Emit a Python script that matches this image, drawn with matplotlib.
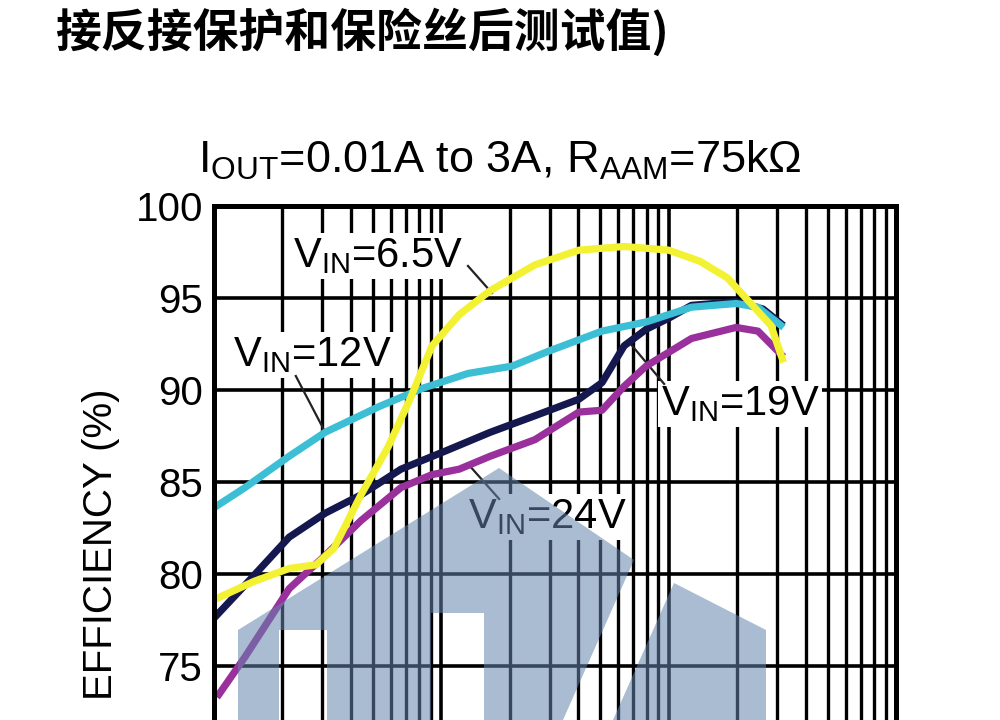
import matplotlib
matplotlib.use("Agg")
import matplotlib.pyplot as plt
from matplotlib.patches import Polygon

plt.rcParams['font.family'] = ['Liberation Sans', 'Noto Sans CJK SC', 'DejaVu Sans']
plt.rcParams['mathtext.fontset'] = 'custom'
plt.rcParams['mathtext.rm'] = 'Liberation Sans'

# efficiency curves (output current in A, efficiency in %)
i_65v = [0.01, 0.015, 0.0214, 0.0281, 0.0337, 0.0443, 0.0583, 0.0728, 0.091, 0.12,
         0.164, 0.258, 0.403, 0.637, 1.0, 1.37, 1.81, 2.26, 2.82, 3.2]
eff_65v = [78.6, 79.6, 80.3, 80.5, 81.4, 84.3, 86.9, 89.5, 92.4, 94.1,
           95.4, 96.8, 97.6, 97.8, 97.6, 97.0, 96.1, 94.8, 93.5, 91.5]

i_12v = [0.01, 0.0137, 0.0214, 0.0308, 0.0532, 0.083, 0.131, 0.205, 0.295, 0.509,
         0.796, 1.26, 1.98, 2.47, 3.2]
eff_12v = [83.6, 84.7, 86.4, 87.7, 89.1, 90.1, 90.9, 91.3, 92.1, 93.2,
           93.7, 94.5, 94.7, 94.5, 93.4]

i_19v = [0.01, 0.0137, 0.0214, 0.0308, 0.0443, 0.0665, 0.105, 0.164, 0.258, 0.403,
         0.509, 0.637, 0.796, 1.0, 1.26, 1.98, 2.6, 3.2]
eff_19v = [77.6, 79.4, 82.0, 83.3, 84.3, 85.7, 86.7, 87.7, 88.6, 89.5,
           90.4, 92.4, 93.3, 93.9, 94.6, 94.8, 94.4, 93.5]

i_24v = [0.0103, 0.0137, 0.0214, 0.0308, 0.0443, 0.0665, 0.091, 0.12, 0.164, 0.258,
         0.403, 0.509, 0.637, 0.796, 1.26, 1.98, 2.47, 3.2]
eff_24v = [73.3, 75.5, 79.2, 81.0, 82.9, 84.7, 85.4, 85.7, 86.4, 87.3,
           88.8, 88.9, 90.2, 91.3, 92.8, 93.4, 93.2, 91.8]

y_ticks = [75, 80, 85, 90, 95, 100]

title_text = '接反接保护和保险丝后测试值)'
cond_text = r'I$_{\mathregular{OUT}}$=0.01A to 3A, R$_{\mathregular{AAM}}$=75kΩ'

fig = plt.figure(figsize=(10, 7.2), dpi=100)
fig.patch.set_facecolor('white')

# axes run past the bottom edge: the picture is cropped
ax = fig.add_axes([0.214, -0.5639, 0.682, 1.2778])
ax.set_xscale('log')
ax.set_xlim(0.01, 10)
ax.set_ylim(50, 100)

ax.plot(i_24v, eff_24v, color='#9a309c', lw=5.2, zorder=4, solid_capstyle='butt')
ax.plot(i_19v, eff_19v, color='#15184f', lw=5.2, zorder=4, solid_capstyle='butt')
ax.plot(i_12v, eff_12v, color='#3cbfd5', lw=5.2, zorder=4, solid_capstyle='butt')
ax.plot(i_65v, eff_65v, color='#f2f233', lw=5.2, zorder=4, solid_capstyle='butt')

ax.set_yticks(y_ticks)
ax.set_yticklabels([str(v) for v in y_ticks], fontsize=29)
ax.tick_params(axis='both', which='both', length=0, pad=8)
ax.tick_params(axis='x', labelbottom=False)
ax.grid(True, which='major', color='black', lw=2.6, zorder=1)
ax.grid(True, which='minor', axis='x', color='black', lw=2.4, zorder=1)
ax.set_axisbelow(True)
for s in ax.spines.values():
    s.set_linewidth(3.6)
    s.set_zorder(5)

# curve labels with leader lines
box = dict(facecolor='white', edgecolor='none', pad=2)
labels = [
    (r'V$_{\mathregular{IN}}$=6.5V', (0.0527, 97.3), (0.131, 96.74), (0.167, 95.27)),
    (r'V$_{\mathregular{IN}}$=12V', (0.0270, 91.9), (0.0229, 90.76), (0.0308, 87.72)),
    (r'V$_{\mathregular{IN}}$=19V', (2.06, 89.24), (0.955, 90.33), (0.670, 92.6)),
    (r'V$_{\mathregular{IN}}$=24V', (0.294, 83.1), (0.1795, 84.08), (0.131, 85.98)),
]
for txt, pos, p0, p1 in labels:
    ax.text(pos[0], pos[1], txt, fontsize=30, ha='center', va='center',
            bbox=box, zorder=3)
    ax.plot([p0[0], p1[0]], [p0[1], p1[1]], color='#222222', lw=1.6, zorder=3)

fig.text(0.055, 1 - 33 / 720, title_text, fontsize=33, fontweight='bold',
         family=['Noto Sans CJK SC', 'DejaVu Sans'], ha='left', va='center')
fig.text(0.198, 1 - 160 / 720, cond_text, fontsize=32.5, ha='left', va='center')
# y label kept whole inside the figure
fig.text(0.101, 1 - 388 / 720, 'EFFICIENCY (%)', fontsize=29, rotation=90,
         ha='center', va='top')

# grey-blue watermark shapes over the lower part (pixel outline, two door holes)
wm = '#6585ad'
house = [(238, 720), (238, 630), (499, 468), (634, 560), (563, 720), (484, 720),
         (484, 613), (431, 613), (431, 720), (327, 720), (327, 630), (279, 630),
         (279, 720)]
leg = [(674, 583), (766, 630), (766, 720), (613, 720)]
for pts in (house, leg):
    poly = Polygon([(x / 1000, 1 - y / 720) for x, y in pts], closed=True,
                   transform=fig.transFigure, facecolor=wm, edgecolor='none',
                   alpha=0.55, zorder=10)
    fig.patches.append(poly)

fig.savefig('out.png', dpi=100)
